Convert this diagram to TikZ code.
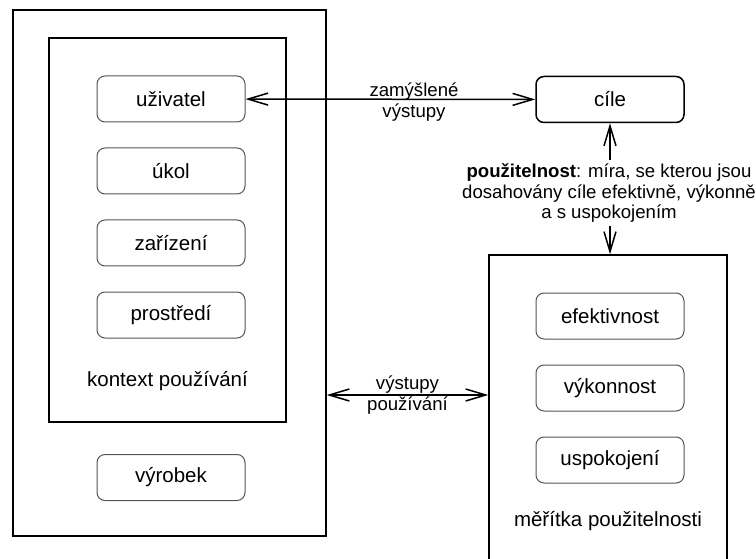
\documentclass[tikz,border=0pt]{standalone}
\usepackage{fontspec}
\setmainfont{Liberation Sans}
\usetikzlibrary{arrows.meta,positioning}
\definecolor{Edge}{HTML}{555555}
\tikzset{
  frame/.style={draw=black, line width=1.5pt, inner sep=0pt},
  item/.style={draw=Edge, line width=1pt, rounded corners=8pt,
               minimum width=148pt, minimum height=46pt, inner sep=0pt,
               font=\fontsize{20.5}{24}\selectfont},
  goal/.style={item, draw=black, line width=1.5pt},
  caption/.style={font=\fontsize{20.5}{24}\selectfont, inner sep=0pt},
  note/.style={font=\fontsize{18.6}{20.5}\selectfont, align=center, inner sep=3pt},
  link/.style={{Straight Barb[length=20pt,width=12pt]}-{Straight Barb[length=20pt,width=12pt]},
               line width=1.5pt},
  half/.style={-{Straight Barb[length=20pt,width=12pt]}, line width=1.5pt},
}
\begin{document}
\begin{tikzpicture}[x=1pt, y=-1pt, node distance=25pt]
  \clip (0,0) rectangle (756,559);
  % left side: product and context of use
  \node[frame, minimum width=313pt, minimum height=526pt] (product) at (169.5,273) {};
  \node[frame, minimum width=237pt, minimum height=384pt] (context) at (167.5,230) {};
  \node[item] (user) at (171,99) {uživatel};
  \node[item, below=of user] (task) {úkol};
  \node[item, below=of task] (equip) {zařízení};
  \node[item, below=of equip] (env) {prostředí};
  \node[caption] (ctxlabel) at (167.5,381) {kontext používání};
  \node[item] (thing) at (171,477.5) {výrobek};
  % right side: goals and measures
  \node[goal] (goals) at (610,99.5) {cíle};
  \node[frame, minimum width=238pt, minimum height=320pt] (measures) at (608,415) {};
  \node[item] (effect) at (610,316) {efektivnost};
  \node[item, below=of effect] (effic) {výkonnost};
  \node[item, below=of effic] (satisf) {uspokojení};
  \node[caption] (measlabel) at (608,521) {měřítka použitelnosti};
  % connectors
  \node[note] (intended) at (414,102) {zamýšlené\\výstupy};
  \draw[link] (user) -- (goals);
  \node[note] (outputs) at (407.5,395) {výstupy\\používání};
  \draw[link] (product.east |- outputs) -- (measures.west |- outputs);
  \node[note] (usability) at (609,193)
    {\textbf{použitelnost}: míra, se kterou jsou\\dosahovány cíle efektivně, výkonně\\a s uspokojením};
  \draw[half] (goals.south |- usability.north) -- (goals.south);
  \draw[half] (goals.south |- usability.south) -- (goals.south |- measures.north);
\end{tikzpicture}
\end{document}
